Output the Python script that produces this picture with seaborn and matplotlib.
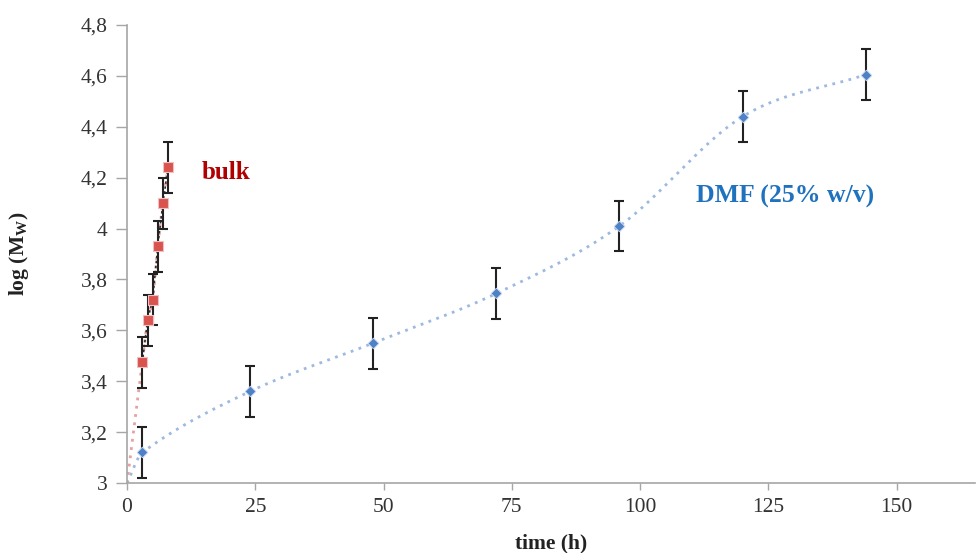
import numpy as np
import pandas as pd
import matplotlib
matplotlib.use("Agg")
import matplotlib.pyplot as plt
import seaborn as sns

# ---- data ----
dmf_time = [3, 24, 48, 72, 96, 120, 144]
dmf_logmw = [3.12, 3.36, 3.55, 3.745, 4.01, 4.44, 4.605]
dmf_err = [0.10, 0.10, 0.10, 0.10, 0.10, 0.10, 0.10]

bulk_time = [3, 4, 5, 6, 7, 8]
bulk_logmw = [3.475, 3.64, 3.72, 3.93, 4.10, 4.24]
bulk_err = [0.10, 0.10, 0.10, 0.10, 0.10, 0.10]

origin_time = [0]
origin_logmw = [3.0]

x_ticks = [0, 25, 50, 75, 100, 125, 150]
y_ticks = [3.0, 3.2, 3.4, 3.6, 3.8, 4.0, 4.2, 4.4, 4.6, 4.8]
y_tick_labels = ["3", "3,2", "3,4", "3,6", "3,8", "4", "4,2", "4,4", "4,6", "4,8"]


def smooth(xs, ys, n=40):
    """Cubic Hermite smoothing (x-parameterised) for display of the trend curve."""
    xs = np.asarray(xs, float)
    ys = np.asarray(ys, float)
    m = np.zeros_like(ys)
    m[1:-1] = (ys[2:] - ys[:-2]) / (xs[2:] - xs[:-2])
    m[0] = (ys[1] - ys[0]) / (xs[1] - xs[0])
    m[-1] = (ys[-1] - ys[-2]) / (xs[-1] - xs[-2])
    ox, oy = [], []
    t = np.linspace(0, 1, n)
    h00 = 2 * t ** 3 - 3 * t ** 2 + 1
    h10 = t ** 3 - 2 * t ** 2 + t
    h01 = -2 * t ** 3 + 3 * t ** 2
    h11 = t ** 3 - t ** 2
    for i in range(len(xs) - 1):
        h = xs[i + 1] - xs[i]
        ox.extend(xs[i] + t * h)
        oy.extend(h00 * ys[i] + h10 * h * m[i] + h01 * ys[i + 1] + h11 * h * m[i + 1])
    return np.array(ox), np.array(oy)


sns.set_theme(style="white")
plt.rcParams["font.family"] = ["Liberation Serif", "DejaVu Serif"]

fig = plt.figure(figsize=(9.79, 5.53), dpi=100)
ax = fig.add_axes([127 / 979, 1 - 483 / 553, (975 - 127) / 979, (483 - 25) / 553])

blue = "#4F81C7"
blue_line = "#9DB9E0"
red = "#D9534F"
red_line = "#E8A0A0"

dmf_df = pd.DataFrame({"time": dmf_time, "logmw": dmf_logmw})
bulk_df = pd.DataFrame({"time": bulk_time, "logmw": bulk_logmw})

# smoothed trend curves (through origin)
sx, sy = smooth(origin_time + dmf_time, origin_logmw + dmf_logmw)
ax.plot(sx, sy, linestyle=(0, (1, 2)), color=blue_line, lw=2.0, zorder=1)
bx, by = smooth(origin_time + bulk_time, origin_logmw + bulk_logmw)
ax.plot(bx, by, linestyle=(0, (1, 2)), color=red_line, lw=2.0, zorder=1)
ax.plot(bulk_time, bulk_logmw, linestyle=(0, (1.5, 1.5)), color="#303030", lw=1.2, zorder=2)

# error bars
ax.errorbar(dmf_time, dmf_logmw, yerr=dmf_err, fmt="none", ecolor="#222222",
            elinewidth=1.5, capsize=3.5, capthick=1.5, zorder=3)
ax.errorbar(bulk_time, bulk_logmw, yerr=bulk_err, fmt="none", ecolor="#222222",
            elinewidth=1.5, capsize=3.5, capthick=1.5, zorder=3)

# markers
sns.scatterplot(data=dmf_df, x="time", y="logmw", ax=ax, marker="D", s=30,
                color=blue, edgecolor="#C9D8EE", linewidth=0.6, zorder=4)
sns.scatterplot(data=bulk_df, x="time", y="logmw", ax=ax, marker="s", s=60,
                color=red, edgecolor="#F0C0C0", linewidth=0.8, zorder=4)

ax.set_xlim(0, 165.3)
ax.set_ylim(3.0, 4.8)
ax.set_xticks(x_ticks)
ax.set_xticklabels([str(v) for v in x_ticks])
ax.set_yticks(y_ticks)
ax.set_yticklabels(y_tick_labels)

for s in ["top", "right"]:
    ax.spines[s].set_visible(False)
for s in ["left", "bottom"]:
    ax.spines[s].set_color("#A6A6A6")
    ax.spines[s].set_linewidth(1.2)

ax.tick_params(axis="y", which="both", left=True, direction="out", length=8,
               width=1.0, color="#A6A6A6", labelsize=15.5, labelcolor="#333333", pad=6)
ax.tick_params(axis="x", which="both", bottom=True, direction="out", length=5,
               width=1.0, color="#A6A6A6", labelsize=15.5, labelcolor="#333333", pad=6)

ax.set_xlabel("time (h)", fontsize=15.5, fontweight="bold", color="#222222", labelpad=12)
ax.set_ylabel(r"log (M$_\mathregular{W}$)", fontsize=15.5, fontweight="bold",
              color="#222222", labelpad=36)

ax.text(14.5, 4.22, "bulk", color="#B00000", fontsize=18, fontweight="bold",
        ha="left", va="center")
ax.text(111, 4.125, "DMF (25% w/v)", color="#1F72BE", fontsize=18.5, fontweight="bold",
        ha="left", va="center")

ax.grid(False)
fig.savefig("out.png", dpi=100)
